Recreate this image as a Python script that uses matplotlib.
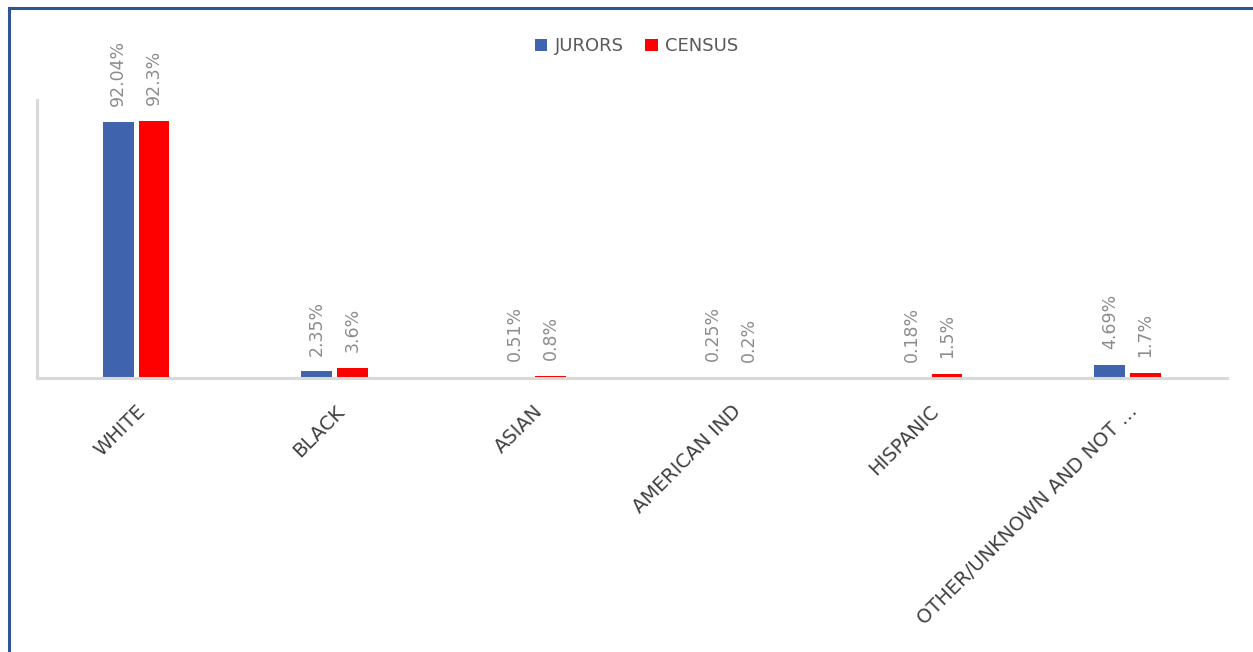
import matplotlib.pyplot as plt
from matplotlib.lines import Line2D
import numpy as np

categories = ["WHITE", "BLACK", "ASIAN", "AMERICAN IND", "HISPANIC",
              "OTHER/UNKNOWN AND NOT \u2026"]
jurors = [92.04, 2.35, 0.51, 0.25, 0.18, 4.69]
census = [92.3, 3.6, 0.8, 0.2, 1.5, 1.7]
juror_labels = ["92.04%", "2.35%", "0.51%", "0.25%", "0.18%", "4.69%"]
census_labels = ["92.3%", "3.6%", "0.8%", "0.2%", "1.5%", "1.7%"]

blue = "#3F64AD"
red = "#FF0000"

fig = plt.figure(figsize=(12.53, 6.52), dpi=100)
ax = fig.add_axes([0.0295, 0.4202, 0.9495, 0.4264])

x = np.arange(len(categories))
w = 0.155
b1 = ax.bar(x - 0.09, jurors, w, color=blue, label="JURORS")
b2 = ax.bar(x + 0.09, census, w, color=red, label="CENSUS")

for bars, labels in [(b1, juror_labels), (b2, census_labels)]:
    for bar, lab in zip(bars, labels):
        ax.annotate(lab, (bar.get_x() + bar.get_width() / 2, bar.get_height()),
                    xytext=(0, 11.5), textcoords="offset points",
                    rotation=90, ha="center", va="bottom",
                    fontsize=12.5, color="#8c8c8c")

ax.set_xlim(-0.5, len(categories) - 0.5)
ax.set_ylim(0, 100)
ax.set_yticks([])
ax.set_xticks(x)
ax.set_xticklabels(categories, rotation=45, ha="right", rotation_mode="anchor",
                   fontsize=14, color="#404040")
ax.tick_params(axis="x", length=0, pad=17)

for s in ["top", "right"]:
    ax.spines[s].set_visible(False)
for s in ["left", "bottom"]:
    ax.spines[s].set_color("#d9d9d9")
    ax.spines[s].set_linewidth(2.2)

leg = fig.legend(loc="center", bbox_to_anchor=(0.508, 0.929), ncol=2,
                 frameon=False, fontsize=13, handlelength=0.7, handleheight=0.7,
                 handletextpad=0.4, columnspacing=1.2)
for t in leg.get_texts():
    t.set_color("#595959")

# chart border (left and top visible)
fig.add_artist(Line2D([0.0068, 0.0068], [0, 0.988], color="#2F5597", lw=2.2,
                      transform=fig.transFigure))
fig.add_artist(Line2D([0.0068, 1.0], [0.988, 0.988], color="#2F5597", lw=2.2,
                      transform=fig.transFigure))

fig.savefig("out.png", dpi=100)
